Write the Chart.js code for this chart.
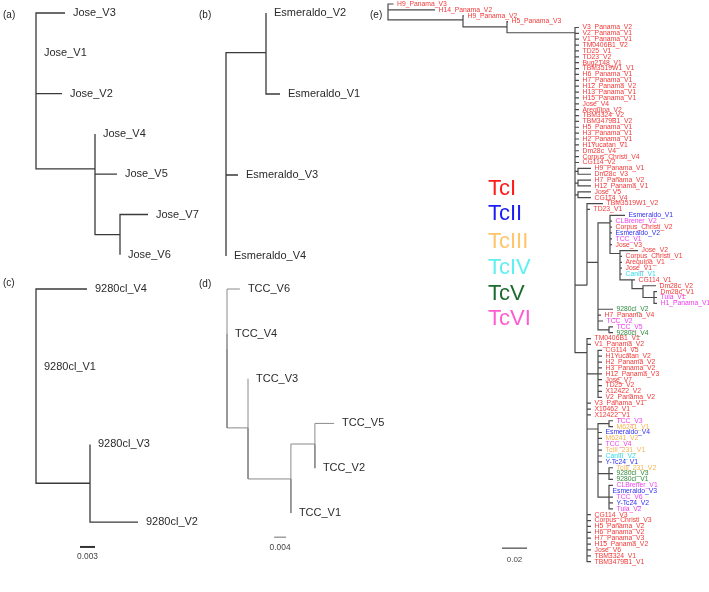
<!DOCTYPE html>
<html><head><meta charset="utf-8">
<script src="https://cdn.jsdelivr.net/npm/chart.js@4.4.0/dist/chart.umd.min.js"></script>
<style>
html,body{margin:0;padding:0;background:#fff;width:709px;height:592px;overflow:hidden}
#wrap{position:relative;width:709px;height:592px}
canvas{position:absolute;left:0;top:0}
.pl{position:absolute;font-family:"Liberation Sans",Arial,sans-serif;font-size:10px;color:#222;line-height:10px}
.lg{position:absolute;font-family:"Liberation Sans Narrow","Liberation Sans",Arial,sans-serif;font-size:22px;line-height:22px}
</style></head>
<body><div id="wrap">
<canvas id="ca" width="709" height="592"></canvas>
<canvas id="cb" width="709" height="592"></canvas>
<canvas id="cc" width="709" height="592"></canvas>
<canvas id="cd" width="709" height="592"></canvas>
<canvas id="ce" width="709" height="592"></canvas>
<div class="pl" style="left:3px;top:10px">(a)</div>
<div class="pl" style="left:199px;top:10px">(b)</div>
<div class="pl" style="left:3px;top:278px">(c)</div>
<div class="pl" style="left:199px;top:279px">(d)</div>
<div class="pl" style="left:370px;top:10px">(e)</div>
<div id="legend"></div>
</div>
<script>
// ---------- Panel (a) ----------
const aLeafNames = ['Jose_V3','Jose_V1','Jose_V2','Jose_V4','Jose_V5','Jose_V7','Jose_V6'];
const aLeafDist  = [0.0058, 0.0, 0.0052, 0.0118, 0.0162, 0.0224, 0.0168];
const aLeafParent= [0, 0, 0, 1, 1, 2, 2];
const aNodeDist  = [0, 0.0118, 0.0168];
const aNodeY     = [1.3, 3.87, 5.5];
const aNodeParent= [-1, 0, 1];

// ---------- Panel (b) ----------
const bLeafNames = ['Esmeraldo_V2','Esmeraldo_V1','Esmeraldo_V3','Esmeraldo_V4'];
const bLeafDist  = [0.008, 0.0108, 0.0024, 0.0];
const bLeafParent= [1, 1, 0, 0];
const bNodeDist  = [0, 0.008];
const bNodeY     = [1.83, 0.49];
const bNodeParent= [-1, 0];

// ---------- Panel (c) ----------
const cLeafNames = ['9280cl_V4','9280cl_V1','9280cl_V3','9280cl_V2'];
const cLeafDist  = [0.0102, 0.0, 0.0108, 0.0204];
const cLeafParent= [0, 0, 1, 1];
const cNodeDist  = [0, 0.0108];
const cNodeY     = [1.16, 2.5];
const cNodeParent= [-1, 0];
const cScale     = 0.003;

// ---------- Panel (d) ----------
const dLeafNames = ['TCC_V6','TCC_V4','TCC_V3','TCC_V5','TCC_V2','TCC_V1'];
const dLeafDist  = [0.0043, 0.0, 0.007, 0.0357, 0.0293, 0.0213];
const dLeafParent= [0, 0, 1, 3, 3, 2];
const dNodeDist  = [0, 0.007, 0.0213, 0.0293];
const dNodeY     = [1.34, 3.1, 4.24, 3.46];
const dNodeParent= [-1, 0, 1, 2];
const dScale     = 0.004;

// ---------- Panel (e) ----------
const eLeafNames = ['H9_Panama_V3','H14_Panama_V2','H9_Panama_V2','H5_Panama_V3',
 'V3_Panama_V2','V2_Panama_V1','V1_Panama_V1','TM0406B1_V2','TD25_V1','TD23_V2','Bug2148_V1','TBM3519W1_V1',
 'H6_Panama_V1','H7_Panama_V1','H12_Panama_V2','H13_Panama_V1','H15_Panama_V1','Jose_V4','Arequipa_V2','TBM3324_V2',
 'TBM3479B1_V2','H5_Panama_V1','H3_Panama_V1','H2_Panama_V1','H1Yucatan_V1','Dm28c_V4','Corpus_Christi_V4','CG114_V2',
 'H9_Panama_V1','Dm28c_V3','H7_Panama_V2','H12_Panama_V1','Jose_V5','CG114_V4','TBM3519W1_V2','TD23_V1',
 'Esmeraldo_V1','CLBrener_V2','Corpus_Christi_V2','Esmeraldo_V2','TCC_V1','Jose_V3','Jose_V2','Corpus_Christi_V1',
 'Arequipa_V1','Jose_V1','CanIII_V1','CG114_V1','Dm28c_V2','Dm28c_V1','Tula_V1','H1_Panama_V1',
 '9280cl_V2','H7_Panama_V4','TCC_V2','TCC_V5','9280cl_V4','TM0406B1_V1','V1_Panama_V2','CG114_V5',
 'H1Yucatan_V2','H2_Panama_V2','H3_Panama_V2','H12_Panama_V3','Jose_V7','TD25_V2','X12422_V2','V2_Panama_V2',
 'V3_Panama_V1','X10462_V1','X12422_V1','TCC_V3','M6241_V1','Esmeraldo_V4','M6241_V2','TCC_V4',
 'TcIII_231_V1','CanIII_V2','Y-Tc24_V1','TcIII_231_V2','9280cl_V3','9280cl_V1','CLBrener_V1','Esmeraldo_V3',
 'TCC_V6','Y-Tc24_V2','Tula_V2','CG114_V3','Corpus_Christi_V3','H5_Panama_V2','H6_Panama_V2','H7_Panama_V3',
 'H15_Panama_V2','Jose_V6','TBM3324_V1','TBM3479B1_V1'];
const eLeafGroup = ['I','I','I','I',
 'I','I','I','I','I','I','I','I','I','I','I','I','I','I','I','I','I','I','I','I','I','I','I','I',
 'I','I','I','I','I','I','I','I',
 'II','VI','I','II','VI','I','I','I','I','I','IV','I','I','I','VI','VI',
 'V','I','VI','VI','V',
 'I','I','I','I','I','I','I','I','I','I','I','I','I','I',
 'VI','III','II','III','VI','III','IV','II','III','V','V','VI','II','VI','II','VI',
 'I','I','I','I','I','I','I','I','I'];
const eLeafParent = [0,0,1,2,
 3,3,3,3,3,3,3,3,3,3,3,3,3,3,3,3,3,3,3,3,3,3,3,3,
 4,4,5,5,6,6,7,7,
 9,9,9,9,9,9,10,10,10,10,10,11,12,13,13,13,
 14,14,14,15,15,
 16,16,17,17,17,17,17,17,17,17,17,16,16,16,
 19,19,18,18,18,18,18,18,20,20,20,21,21,21,21,21,
 16,16,16,16,16,16,16,16,16];
const eLeafDist = [0.0044,0.0376,0.0608,0.096,
 0.1528,0.1528,0.1528,0.1528,0.1528,0.1528,0.1528,0.1528,0.1528,0.1528,0.1528,0.1528,0.1528,0.1528,0.1528,0.1528,0.1528,0.1528,0.1528,0.1528,0.1528,0.1528,0.1528,0.1528,
 0.1624,0.1624,0.1624,0.1624,0.1624,0.1624,0.172,0.1616,
 0.1896,0.1792,0.1792,0.1792,0.1792,0.1792,0.2,0.1872,0.1872,0.1872,0.1872,0.1976,0.2144,0.2152,0.2152,0.2152,
 0.18,0.1704,0.172,0.18,0.18,
 0.1624,0.1624,0.1712,0.1712,0.1712,0.1712,0.1712,0.1712,0.1712,0.1712,0.1712,0.1624,0.1624,0.1624,
 0.18,0.18,0.1712,0.1712,0.1712,0.1712,0.1712,0.1712,0.18,0.18,0.18,0.18,0.1768,0.18,0.18,0.18,
 0.1624,0.1624,0.1624,0.1624,0.1624,0.1624,0.1624,0.1624,0.1624];
const eNodeDist  = [0,0.06,0.0952,0.1496,0.152,0.152,0.152,0.1592,0.168,0.1776,0.1856,0.1952,0.204,0.2128,0.168,0.1768,0.1592,0.168,0.168,0.1768,0.1768,0.1768];
const eNodeY     = [1.4,2.7,3.9,4.9,28.5,30.5,32.5,47.9,44,37.3,42.5,47,48.5,50,51,55.5,59.4,63,72.4,71.5,80,84];
const eNodeParent= [-1,0,1,2,3,3,3,3,7,8,9,10,11,12,8,14,3,16,16,18,18,18];
const eScale     = 0.02;

const legendNames = ['TcI','TcII','TcIII','TcIV','TcV','TcVI'];

// ---------- styles / layout ----------
const groupColor = {I:'#f03a3a', II:'#3030f0', III:'#f6b552', IV:'#33dcee', V:'#2f8a3f', VI:'#f040f0'};
const legendColor = ['#ff1a1a','#1c1cf5','#ffc56a','#5ef0f0','#1d6b30','#ff5cd2'];
const W = 709, H = 592;

function treePoints(nodeDist,nodeY,nodeParent,leafDist,leafParent){
  const pts=[]; const gap={x:null,y:null};
  const edge=(px,py,cx,cy)=>{pts.push({x:px,y:py},{x:px,y:cy},{x:cx,y:cy},gap);};
  nodeParent.forEach((p,i)=>{ if(p>=0) edge(nodeDist[p],nodeY[p],nodeDist[i],nodeY[i]); });
  leafParent.forEach((p,i)=>edge(nodeDist[p],nodeY[p],leafDist[i],i));
  return pts;
}

function makeTree(id, t, L){
  const xmin = -L.rootPx/L.ppu, xmax = (W-L.rootPx)/L.ppu;
  const ymin = -L.leaf0/L.perLeaf, ymax = (H-L.leaf0)/L.perLeaf;
  const datasets=[{data:treePoints(t.nodeDist,t.nodeY,t.nodeParent,t.leafDist,t.leafParent),
    showLine:true,borderColor:L.lineColor,borderWidth:L.lineWidth,pointRadius:0,pointHoverRadius:0,
    spanGaps:false,fill:false,tension:0,borderCapStyle:'butt',borderJoinStyle:'miter'}];
  if(t.scale){
    datasets.push({data:[{x:L.barX,y:L.barY},{x:L.barX+t.scale,y:L.barY}],showLine:true,
      borderColor:L.barColor,borderWidth:L.barWidth,pointRadius:0,borderCapStyle:'butt'});
  }
  const labels={id:'labels'+id,afterDatasetsDraw(chart){
    const c=chart.ctx, xs=chart.scales.x, ys=chart.scales.y;
    c.save(); c.textBaseline='middle'; c.textAlign='left';
    c.font=L.font;
    t.leafNames.forEach((n,i)=>{
      c.fillStyle = t.leafColor ? t.leafColor(i) : L.textColor;
      c.fillText(n, xs.getPixelForValue(t.leafDist[i])+L.gap, ys.getPixelForValue(i)+L.dy);
    });
    if(t.scale){
      c.textAlign='center'; c.font=L.barFont; c.fillStyle=L.barTextColor;
      c.fillText(String(t.scale), xs.getPixelForValue(L.barX+t.scale/2), ys.getPixelForValue(L.barY)+L.barTextDy);
    }
    c.restore();
  }};
  return new Chart(document.getElementById(id),{type:'scatter',data:{datasets},
    options:{responsive:false,animation:false,devicePixelRatio:1,events:[],layout:{padding:0},
      plugins:{legend:{display:false},tooltip:{enabled:false}},
      scales:{x:{type:'linear',display:false,min:xmin,max:xmax},
              y:{type:'linear',display:false,min:ymin,max:ymax,reverse:true}}},
    plugins:[labels]});
}

const bigFont='11px "Liberation Sans", Arial, sans-serif';
const baseL={lineColor:'#3a3a3a',lineWidth:1.3,font:bigFont,textColor:'#2a2a2a',gap:8,dy:0,
  barColor:'#333',barWidth:2,barFont:'8.4px "Liberation Sans", Arial, sans-serif',barTextColor:'#444',barTextDy:10};

makeTree('ca',{leafNames:aLeafNames,leafDist:aLeafDist,leafParent:aLeafParent,nodeDist:aNodeDist,nodeY:aNodeY,nodeParent:aNodeParent},
  Object.assign({},baseL,{rootPx:36,ppu:5000,leaf0:13,perLeaf:40.3}));
makeTree('cb',{leafNames:bLeafNames,leafDist:bLeafDist,leafParent:bLeafParent,nodeDist:bNodeDist,nodeY:bNodeY,nodeParent:bNodeParent},
  Object.assign({},baseL,{rootPx:226,ppu:5000,leaf0:13,perLeaf:81}));
makeTree('cc',{leafNames:cLeafNames,leafDist:cLeafDist,leafParent:cLeafParent,nodeDist:cNodeDist,nodeY:cNodeY,nodeParent:cNodeParent,scale:cScale},
  Object.assign({},baseL,{rootPx:36,ppu:5000,leaf0:289,perLeaf:77.7,barX:0.0088,barY:3.32}));
makeTree('cd',{leafNames:dLeafNames,leafDist:dLeafDist,leafParent:dLeafParent,nodeDist:dNodeDist,nodeY:dNodeY,nodeParent:dNodeParent,scale:dScale},
  Object.assign({},baseL,{lineColor:'#8a8a8a',lineWidth:1,rootPx:227,ppu:3000,leaf0:289,perLeaf:44.8,barX:0.0157,barY:5.54,barColor:'#888',barWidth:1.2}));
makeTree('ce',{leafNames:eLeafNames,leafDist:eLeafDist,leafParent:eLeafParent,nodeDist:eNodeDist,nodeY:eNodeY,nodeParent:eNodeParent,scale:eScale,
   leafColor:i=>groupColor[eLeafGroup[i]]},
  Object.assign({},baseL,{lineColor:'#4a4a4a',lineWidth:1.2,font:'6.8px "Liberation Sans", Arial, sans-serif',gap:3.5,dy:0,
    rootPx:388,ppu:1250,leaf0:4,perLeaf:5.87,barX:0.0912,barY:92.7,barColor:'#444',barWidth:1.2,barFont:'8px "Liberation Sans", Arial, sans-serif',barTextDy:12}));

// legend (HTML text)
const lgTop=[177,202,230,256,282,307];
const lg=document.getElementById('legend');
legendNames.forEach((n,i)=>{const d=document.createElement('div');d.className='lg';d.textContent=n;
  d.style.left='488px';d.style.top=lgTop[i]+'px';d.style.color=legendColor[i];lg.appendChild(d);});
</script>
</body></html>
